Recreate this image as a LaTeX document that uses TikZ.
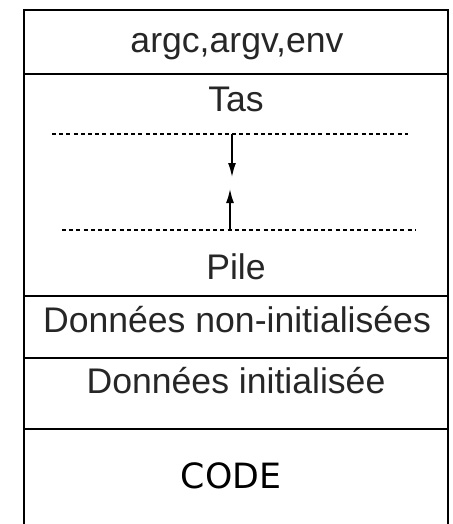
\documentclass[tikz,border=0pt]{standalone}
\usepackage{fontspec}
\usetikzlibrary{arrows.meta}
\setmainfont{Liberation Sans}
\newfontfamily\codefont{DejaVu Sans}
\begin{document}
\begin{tikzpicture}[x=0.5pt,y=-0.5pt,
  zone/.style={anchor=base,inner sep=0pt,text=black!85,font=\fontsize{17.8}{20}\selectfont},
  limite/.style={dash pattern=on 2pt off 1.6pt,line width=0.6pt},
  croit/.style={-{Latex[length=7pt,width=4pt]},line width=0.75pt}]
\useasboundingbox (0,0) rectangle (452,524);
\draw[line width=1pt] (24,524) -- (24,10) -- (448,10) -- (448,524);
\draw[line width=1pt] (24,74) -- (448,74);\draw[line width=1pt] (24,296) -- (448,296);\draw[line width=1pt] (24,358) -- (448,358);\draw[line width=1pt] (24,429) -- (448,429);
% les zones
\node[zone] (args) at (237,53) {argc,argv,env};
\node[zone] (tas) at (236,112) {Tas};
\node[zone] (pile) at (236,279) {Pile};
\node[zone] (bss) at (237,332) {Données non-initialisées};
\node[zone] (data) at (236,393) {Données initialisée};
\node[zone,text=black,font=\codefont\fontsize{17.4}{20}\selectfont] (code) at (231,488) {CODE};
% limites tas / pile
\coordinate (tasg) at (52,134);\coordinate (tasd) at (408,134);\coordinate (tasm) at (232,134);\coordinate (tasb) at (232,177);
\coordinate (pileg) at (62,230);\coordinate (piled) at (415,230);\coordinate (pilem) at (230,230);\coordinate (pileh) at (230,189);
\draw[limite] (tasg) -- (tasd);\draw[limite] (pileg) -- (piled);
\draw[croit] (tasm) -- (tasb);\draw[croit] (pilem) -- (pileh);
\end{tikzpicture}
\end{document}
